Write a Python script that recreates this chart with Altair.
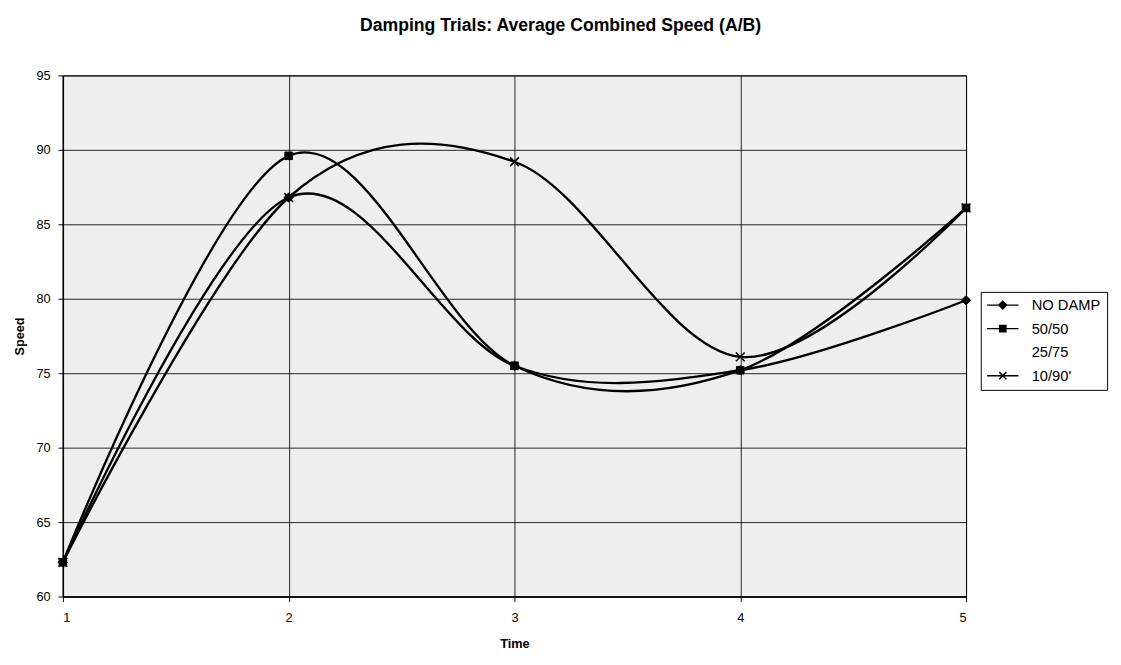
import altair as alt
import pandas as pd

time = [1, 2, 3, 4, 5]
series_names = ["NO DAMP", "50/50", "25/75", "10/90'"]
no_damp = [62.3, 86.8, 75.5, 75.2, 79.9]
d50_50 = [62.3, 89.6, 75.5, 75.2, 86.1]
d25_75 = []
d10_90 = [62.3, 86.8, 89.2, 76.1, 86.1]
y_ticks = [60, 65, 70, 75, 80, 85, 90, 95]
x_ticks = [1, 2, 3, 4, 5]

rows = []
for name, vals in zip(series_names, [no_damp, d50_50, d25_75, d10_90]):
    for t, v in zip(time, vals):
        rows.append({"Time": t, "Speed": v, "series": name})
df = pd.DataFrame(rows)

FONT = "Liberation Sans"

x_enc = alt.X("Time:Q", scale=alt.Scale(domain=[1, 5], nice=False, zero=False),
              axis=alt.Axis(values=x_ticks, title="Time", format="d"))
y_enc = alt.Y("Speed:Q", scale=alt.Scale(domain=[60, 95], nice=False, zero=False),
              axis=alt.Axis(values=y_ticks, title="Speed"))

base = alt.Chart(df)

lines = base.mark_line(interpolate="cardinal", tension=0, color="black",
                       strokeWidth=2.4).encode(x=x_enc, y=y_enc, detail="series:N")

pt_nd = base.transform_filter(alt.datum.series == "NO DAMP").mark_point(
    shape="diamond", filled=True, fill="black", stroke="black", strokeWidth=1,
    size=90, opacity=1).encode(x=x_enc, y=y_enc)
pt_50 = base.transform_filter(alt.datum.series == "50/50").mark_point(
    shape="square", filled=True, fill="black", stroke="black", strokeWidth=1,
    size=60, opacity=1).encode(x=x_enc, y=y_enc)
pt_10 = base.transform_filter(alt.datum.series == "10/90'").mark_point(
    shape="M-1,-1L1,1M-1,1L1,-1", filled=False, stroke="black", strokeWidth=1.6,
    size=80, opacity=1).encode(x=x_enc, y=y_enc)

legend_paths = [
    "M-4,0L4,0M0,-1L1,0L0,1L-1,0Z",
    "M-4,0L4,0M-0.8,-0.8L0.8,-0.8L0.8,0.8L-0.8,0.8Z",
    "M0,0",
    "M-4,0L4,0M-0.9,-0.9L0.9,0.9M-0.9,0.9L0.9,-0.9",
]

legend_def = alt.Legend(title=None, orient="none", legendX=937, legendY=221,
                        symbolSize=64, symbolStrokeWidth=1.5, symbolOpacity=1,
                        labelFont=FONT, labelFontSize=15, labelColor="black",
                        labelOffset=22, symbolOffset=9,
                        padding=6, rowPadding=8,
                        strokeColor="black", fillColor="white",
                        cornerRadius=0)

legend_layer = base.transform_filter("false").mark_point(
    filled=True, fill="black", strokeWidth=1.5, opacity=1
).encode(
    x=x_enc, y=y_enc,
    shape=alt.Shape("series:N",
                    scale=alt.Scale(domain=series_names, range=legend_paths),
                    legend=legend_def),
    stroke=alt.Stroke("series:N",
                      scale=alt.Scale(domain=series_names, range=["black"] * 4),
                      legend=legend_def),
)

chart = alt.layer(lines, pt_nd, pt_50, pt_10, legend_layer).properties(
    width=922, height=532,
    title=alt.TitleParams("Damping Trials: Average Combined Speed (A/B)",
                          font=FONT, fontSize=18, fontWeight="bold", color="black",
                          offset=35, anchor="middle", frame="bounds"),
    padding={"left": 5, "top": 3, "right": 5, "bottom": 5},
).configure_view(
    fill="#eeeeee", stroke="black", strokeWidth=1
).configure_axis(
    grid=True, gridColor="black", gridOpacity=0.85, gridWidth=1,
    domainColor="black", domainWidth=1.5, tickColor="black", tickSize=5,
    labelFont=FONT, labelFontSize=13, labelColor="black", labelPadding=8,
    titleFont=FONT, titleFontSize=13, titleFontWeight="bold", titleColor="black",
).configure_axisX(titlePadding=14, labelPadding=10).configure_axisY(titlePadding=10)

chart.save("out.html", embed_options={"renderer": "svg", "actions": False})
